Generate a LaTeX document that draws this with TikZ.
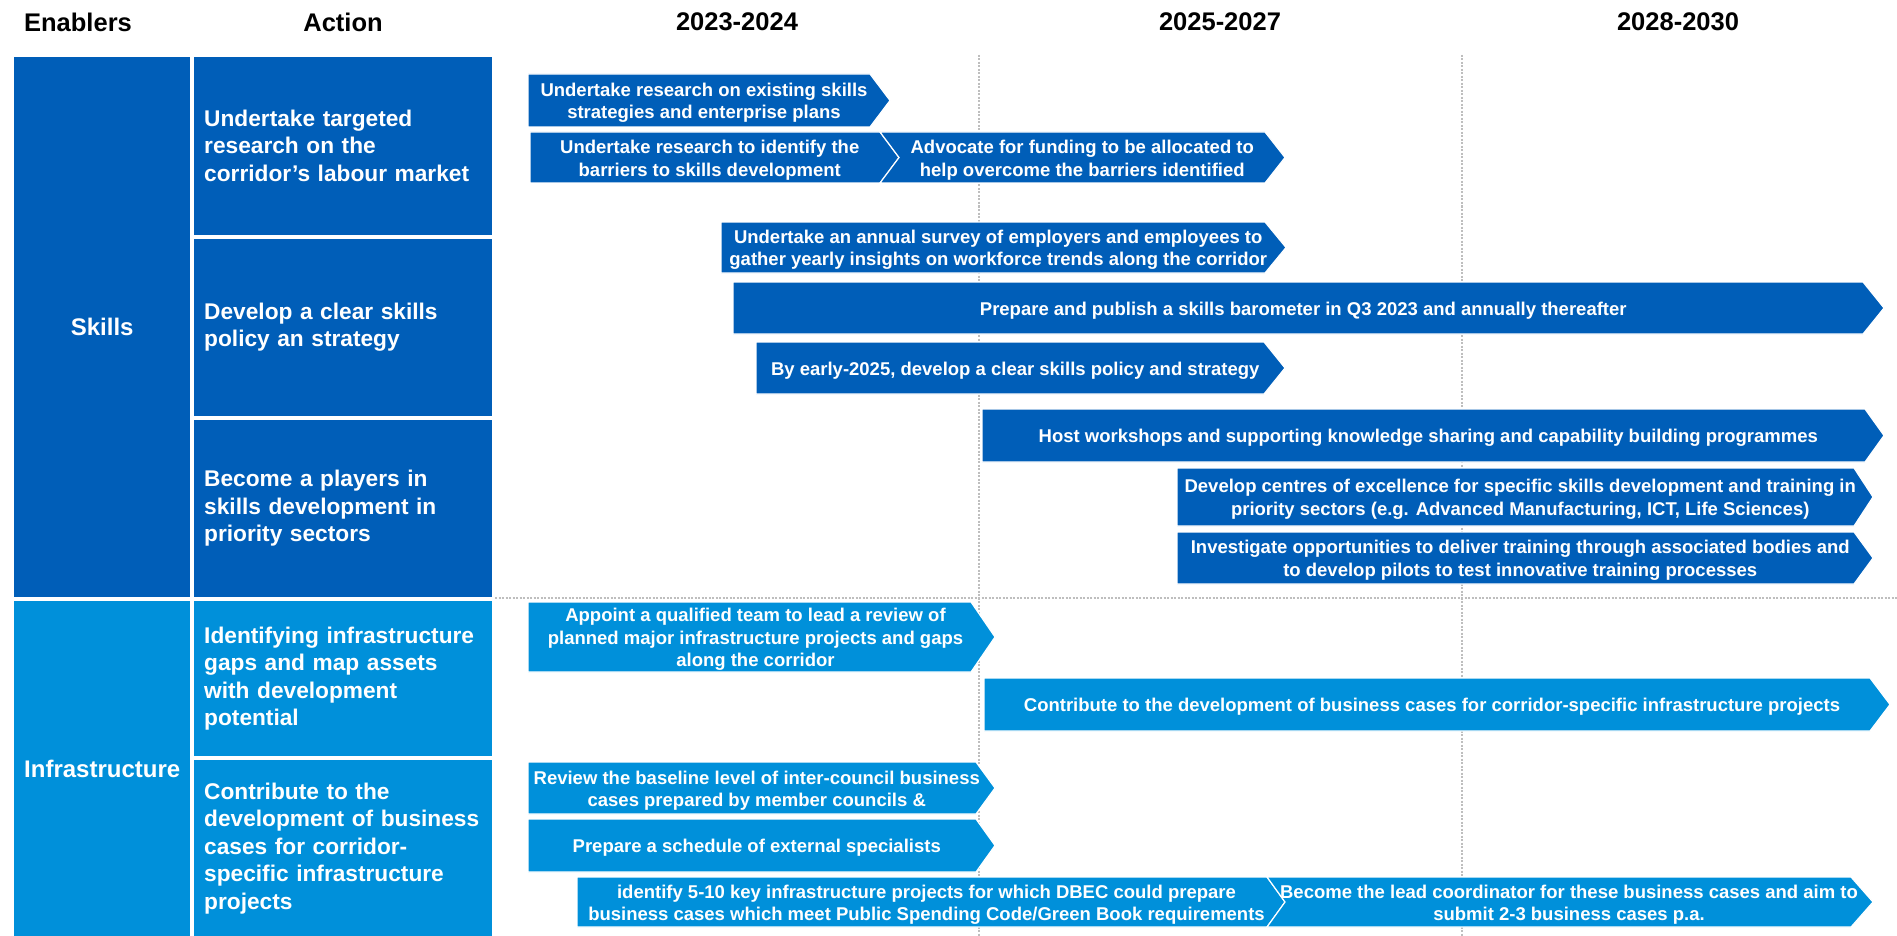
\documentclass[tikz,border=0pt]{standalone}
\usepackage{fontspec}
\setmainfont{Liberation Sans}
\usetikzlibrary{calc}
\definecolor{skillblue}{RGB}{0,94,184}
\definecolor{infrablue}{RGB}{0,144,218}
\definecolor{dotgray}{RGB}{190,190,190}
\tikzset{
  hdr/.style={font=\bfseries\fontsize{25.5}{30}\selectfont, text=black, inner sep=0pt},
  enbox/.style={anchor=north west, minimum width=176pt, text=white, inner sep=0pt,
    font=\bfseries\fontsize{24}{28}\selectfont},
  actbox/.style={anchor=north west, minimum width=298pt, text width=278pt, inner xsep=10pt,
    inner ysep=0pt, align=left, text=white, font=\bfseries\fontsize{22.7}{27.5}\selectfont},
  arrtext/.style={text=white, align=center, inner sep=0pt,
    font=\bfseries\fontsize{18.5}{22.5}\selectfont},
  dotline/.style={draw=dotgray, line width=2pt, dash pattern=on 2pt off 1.5pt},
  arrline/.style={draw=white, line width=1.2pt, line join=miter}
}
% #1 name, #2 colour, #3 left x, #4 notch x, #5 body right x, #6 tip x, #7 top y, #8 bottom y, #9 text
\newcommand{\tlarrow}[9]{%
  \fill[#2] (#3,#7) -- (#5,#7) -- (#6,{(#7+#8)/2}) -- (#5,#8) -- (#3,#8) -- (#4,{(#7+#8)/2}) -- cycle;
  \node[arrtext] (#1) at ({((#3+#4)/2+(#5+#6)/2)/2},{(#7+#8)/2+2.5}) {#9};
  \draw[arrline] (#3,#7) -- (#5,#7) -- (#6,{(#7+#8)/2}) -- (#5,#8) -- (#3,#8) -- (#4,{(#7+#8)/2}) -- cycle;
}
\begin{document}
\begin{tikzpicture}[x=1pt, y=-1pt]
\useasboundingbox (0,0) rectangle (1897,936);
\fill[white] (0,0) rectangle (1897,936);

% headers
\node[hdr] (hEn) at (78,22) {Enablers};
\node[hdr] (hAc) at (343,22) {Action};
\node[hdr] (hY1) at (737,22) {2023-2024};
\node[hdr] (hY2) at (1220,22) {2025-2027};
\node[hdr] (hY3) at (1678,22) {2028-2030};

% dotted grid
\coordinate (v1t) at (979,55);  \coordinate (v1b) at (979,936);
\coordinate (v2t) at (1462,55); \coordinate (v2b) at (1462,936);
\coordinate (hl) at (495,598);  \coordinate (hr) at (1897,598);
\draw[dotline] (v1t) -- (v1b);
\draw[dotline] (v2t) -- (v2b);
\draw[dotline] (hl) -- (hr);

% enablers
\node[enbox, fill=skillblue, minimum height=540pt] (skills) at (14,57) {Skills};
\node[enbox, fill=infrablue, minimum height=335pt] (infra) at (14,601) {Infrastructure};

% actions
\node[actbox, fill=skillblue, minimum height=177.3pt] (act1) at (194,57)
  {Undertake targeted\\research on the\\corridor’s labour market};
\node[actbox, fill=skillblue, minimum height=177.3pt] (act2) at (194,238.3)
  {Develop a clear skills\\policy an strategy};
\node[actbox, fill=skillblue, minimum height=177.3pt] (act3) at (194,419.7)
  {Become a players in\\skills development in\\priority sectors};
\node[actbox, fill=infrablue, minimum height=155pt] (act4) at (194,601)
  {Identifying infrastructure\\gaps and map assets\\with development\\potential};
\node[actbox, fill=infrablue, minimum height=176pt] (act5) at (194,760)
  {Contribute to the\\development of business\\cases for corridor-\\specific infrastructure\\projects};

% skills timeline arrows
\tlarrow{a1}{skillblue}{528}{528}{870}{890}{74}{127}{Undertake research on existing skills\\strategies and enterprise plans}
\tlarrow{a2}{skillblue}{530}{530}{880}{899}{132}{183}{Undertake research to identify the\\barriers to skills development}
\tlarrow{a3}{skillblue}{880}{899}{1265}{1285}{132}{183}{Advocate for funding to be allocated to\\help overcome the barriers identified}
\tlarrow{a4}{skillblue}{721}{721}{1265}{1286}{222}{273}{Undertake an annual survey of employers and employees to\\gather yearly insights on workforce trends along the corridor}
\tlarrow{a5}{skillblue}{733}{733}{1863}{1884}{282}{334}{Prepare and publish a skills barometer in Q3 2023 and annually thereafter}
\tlarrow{a6}{skillblue}{756}{756}{1264}{1285}{342}{394}{By early-2025, develop a clear skills policy and strategy}
\tlarrow{a7}{skillblue}{982}{982}{1865}{1884}{409}{462}{Host workshops and supporting knowledge sharing and capability building programmes}
\tlarrow{a8}{skillblue}{1177}{1177}{1854}{1873}{468}{526}{Develop centres of excellence for specific skills development and training in\\priority sectors (e.g. Advanced Manufacturing, ICT, Life Sciences)}
\tlarrow{a9}{skillblue}{1177}{1177}{1854}{1873}{532}{584}{Investigate opportunities to deliver training through associated bodies and\\to develop pilots to test innovative training processes}

% infrastructure timeline arrows
\tlarrow{b1}{infrablue}{528}{528}{971}{995}{602}{672}{Appoint a qualified team to lead a review of\\planned major infrastructure projects and gaps\\along the corridor}
\tlarrow{b2}{infrablue}{984}{984}{1870}{1890}{678}{731}{Contribute to the development of business cases for corridor-specific infrastructure projects}
\tlarrow{b3}{infrablue}{528}{528}{976}{995}{762}{814}{Review the baseline level of inter-council business\\cases prepared by member councils \&}
\tlarrow{b4}{infrablue}{528}{528}{976}{995}{819}{872}{Prepare a schedule of external specialists}
\tlarrow{b5}{infrablue}{577}{577}{1267}{1285}{877}{927}{identify 5-10 key infrastructure projects for which DBEC could prepare\\business cases which meet Public Spending Code/Green Book requirements}
\tlarrow{b6}{infrablue}{1267}{1285}{1851}{1873}{877}{927}{Become the lead coordinator for these business cases and aim to\\submit 2-3 business cases p.a.}
\end{tikzpicture}
\end{document}
